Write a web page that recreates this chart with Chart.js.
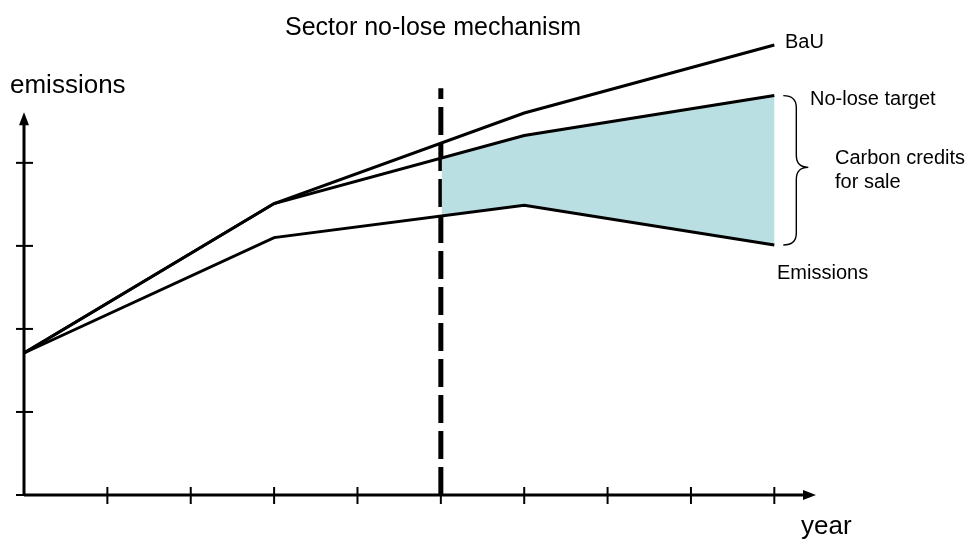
<!DOCTYPE html>
<html>
<head>
<meta charset="utf-8">
<title>Sector no-lose mechanism</title>
<script src="https://cdn.jsdelivr.net/npm/chart.js@4.4.1/dist/chart.umd.min.js"></script>
<style>
  html, body { margin: 0; padding: 0; background: #fff; }
  #wrap { width: 968px; height: 540px; }
</style>
</head>
<body>
<div id="wrap"><canvas id="sector-chart" width="968" height="540"></canvas></div>
<script>
// years along the x axis (arbitrary units) and emission levels per path
const years = [0, 3, 6, 9];
const bauValues = [1.71, 3.51, 4.60, 5.42];
const noLoseValues = [1.71, 3.51, 4.33, 4.81];
const emissionValues = [1.71, 3.10, 3.49, 3.01];

const creditStart = 5;   // start of the crediting period (dashed line)
const xTicks = [1, 2, 3, 4, 5, 6, 7, 8, 9];
const yTicks = [0, 1, 2, 3, 4];
const yAxisTop = 4.61;
const dashTop = 4.9;

const FONT = '"Liberation Sans", Arial, sans-serif';

const toPoints = (xs, ys) => xs.map((x, i) => ({ x: x, y: ys[i] }));

// axes, ticks, dashed marker and credit band
const decorations = {
  id: 'decorations',
  beforeDatasetsDraw(chart) {
    const ctx = chart.ctx;
    const xs = chart.scales.x;
    const ys = chart.scales.y;
    const x0 = xs.getPixelForValue(0);
    const y0 = ys.getPixelForValue(0);

    ctx.save();
    ctx.strokeStyle = '#000';
    ctx.fillStyle = '#000';

    // y axis with arrow
    ctx.lineWidth = 3;
    const yTop = ys.getPixelForValue(yAxisTop);
    ctx.beginPath();
    ctx.moveTo(x0, y0);
    ctx.lineTo(x0, yTop + 8);
    ctx.stroke();
    ctx.beginPath();
    ctx.moveTo(x0, yTop);
    ctx.lineTo(x0 - 5, yTop + 13);
    ctx.lineTo(x0 + 5, yTop + 13);
    ctx.closePath();
    ctx.fill();

    // x axis with arrow
    const xEnd = xs.getPixelForValue(xs.max);
    ctx.beginPath();
    ctx.moveTo(x0, y0);
    ctx.lineTo(xEnd - 8, y0);
    ctx.stroke();
    ctx.beginPath();
    ctx.moveTo(xEnd, y0);
    ctx.lineTo(xEnd - 13, y0 - 5);
    ctx.lineTo(xEnd - 13, y0 + 5);
    ctx.closePath();
    ctx.fill();

    // tick marks
    ctx.lineWidth = 2;
    yTicks.forEach(v => {
      const y = ys.getPixelForValue(v);
      ctx.beginPath();
      ctx.moveTo(x0 - 8, y);
      ctx.lineTo(x0 + 9, y);
      ctx.stroke();
    });
    xTicks.forEach(v => {
      const x = xs.getPixelForValue(v);
      ctx.beginPath();
      ctx.moveTo(x, y0 - 8);
      ctx.lineTo(x, y0 + 9);
      ctx.stroke();
    });

    // dashed line at start of crediting period
    const xd = xs.getPixelForValue(creditStart);
    ctx.lineWidth = 5;
    ctx.setLineDash([28, 8]);
    ctx.beginPath();
    ctx.moveTo(xd, y0);
    ctx.lineTo(xd, ys.getPixelForValue(dashTop));
    ctx.stroke();
    ctx.setLineDash([]);

    // band between no-lose target and emissions (carbon credits)
    ctx.beginPath();
    ctx.rect(xd + 1, chart.chartArea.top, chart.chartArea.right - xd, y0 - chart.chartArea.top);
    ctx.clip();
    ctx.fillStyle = '#b9dfe3';
    ctx.beginPath();
    years.forEach((x, i) => {
      const px = xs.getPixelForValue(x);
      const py = ys.getPixelForValue(noLoseValues[i]);
      if (i === 0) ctx.moveTo(px, py); else ctx.lineTo(px, py);
    });
    for (let i = years.length - 1; i >= 0; i--) {
      ctx.lineTo(xs.getPixelForValue(years[i]), ys.getPixelForValue(emissionValues[i]));
    }
    ctx.closePath();
    ctx.fill();
    ctx.restore();
  },
  afterDraw(chart) {
    const ctx = chart.ctx;
    const xs = chart.scales.x;
    const ys = chart.scales.y;
    const last = years.length - 1;
    const xr = xs.getPixelForValue(years[last]);

    ctx.save();
    ctx.fillStyle = '#000';
    ctx.textBaseline = 'middle';

    ctx.textAlign = 'center';
    ctx.font = '25px ' + FONT;
    ctx.fillText('Sector no-lose mechanism', 433, 28);

    ctx.textAlign = 'left';
    ctx.font = '26px ' + FONT;
    ctx.fillText('emissions', 10, 86);
    ctx.fillText('year', 801, 527);

    ctx.font = '20px ' + FONT;
    ctx.fillText('BaU', 785, 42);
    ctx.fillText('No-lose target', 810, 99);
    ctx.fillText('Carbon credits', 835, 158);
    ctx.fillText('for sale', 835, 182);
    ctx.fillText('Emissions', 777, 273);

    // curly brace spanning the credit gap at the last year
    const top = ys.getPixelForValue(noLoseValues[last]);
    const bot = ys.getPixelForValue(emissionValues[last]);
    const mid = (top + bot) / 2 - 3;
    const bx = xr + 9;
    const inner = xr + 22;
    const tip = xr + 34;
    ctx.strokeStyle = '#000';
    ctx.lineWidth = 1.4;
    ctx.beginPath();
    ctx.moveTo(bx, top);
    ctx.quadraticCurveTo(inner, top, inner, top + 12);
    ctx.lineTo(inner, mid - 12);
    ctx.quadraticCurveTo(inner, mid, tip, mid);
    ctx.quadraticCurveTo(inner, mid, inner, mid + 12);
    ctx.lineTo(inner, bot - 12);
    ctx.quadraticCurveTo(inner, bot, bx, bot);
    ctx.stroke();
    ctx.restore();
  }
};

const lineStyle = {
  borderColor: '#000',
  borderWidth: 3,
  pointRadius: 0,
  fill: false,
  tension: 0,
  clip: false
};

const chart = new Chart(document.getElementById('sector-chart'), {
  type: 'line',
  data: {
    datasets: [
      Object.assign({ label: 'BaU', data: toPoints(years, bauValues) }, lineStyle),
      Object.assign({ label: 'No-lose target', data: toPoints(years, noLoseValues) }, lineStyle),
      Object.assign({ label: 'Emissions', data: toPoints(years, emissionValues) }, lineStyle)
    ]
  },
  options: {
    responsive: false,
    animation: false,
    layout: { padding: { left: 24, right: 152, top: 30, bottom: 45 } },
    scales: {
      x: { type: 'linear', min: 0, max: 9.5, display: false },
      y: { type: 'linear', min: 0, max: 5.6, display: false }
    },
    plugins: {
      legend: { display: false },
      title: { display: false },
      tooltip: { enabled: false }
    }
  },
  plugins: [decorations]
});
</script>
</body>
</html>
